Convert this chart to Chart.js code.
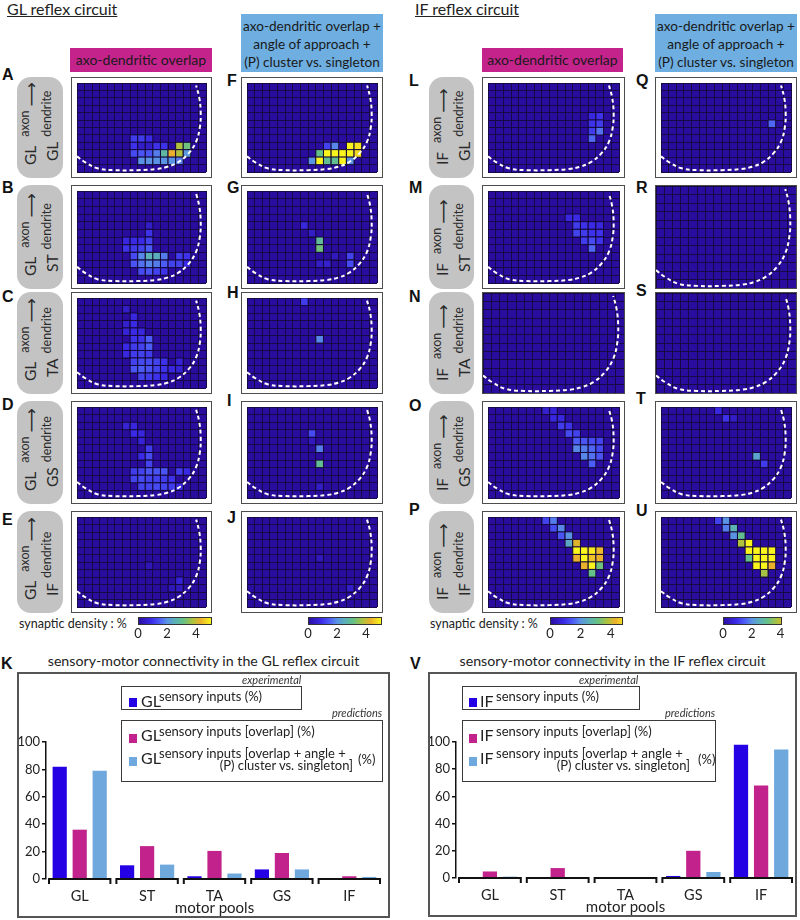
<!DOCTYPE html>
<html>
<head>
<meta charset="utf-8">
<script src="https://cdn.jsdelivr.net/npm/chart.js@4.4.1/dist/chart.umd.min.js"></script>
<style>
  body { margin: 0; background: #fff; }
  #page { position: relative; width: 800px; height: 920px; overflow: hidden; font-family: Lato, "Open Sans", sans-serif; color: #222; }
  .abs { position: absolute; white-space: nowrap; }
  .hdr { font-size: 16px; line-height: 16px; text-decoration: underline; }
  .mbox { background: #c3238b; font-size: 14px; line-height: 24px; text-align: center; color: #1a1a1a; }
  .bbox { background: #6eaee0; font-size: 13.6px; line-height: 18px; text-align: center; padding-top: 3px; box-sizing: border-box; color: #1a1a1a; }
  .letter { font: bold 16px "Liberation Sans", Arial, sans-serif; line-height: 16px; color: #111; }
  .glab { background: #c3c3c3; border-radius: 14px; }
  .rot { position: absolute; transform-origin: 0 0; transform: rotate(-90deg); }
  .rot .ln { position: absolute; white-space: nowrap; font-size: 15.5px; line-height: 15px; color: #2a2a2a; }
  .rot .sp { font-size: 12.5px; position: relative; top: -7px; }
  .rot .ar { font-family: "DejaVu Sans", sans-serif; font-size: 17px; position: relative; top: 1px; }
  .panel { border: 1px solid #4d4d4d; box-sizing: border-box; }
  .panel canvas { display: block; }
  .frame { border: 2px solid #555; box-sizing: border-box; }
  .lg { border: 1.5px solid #3a3a3a; box-sizing: border-box; }
  .sw { width: 8px; height: 9px; }
  .big { font-size: 16px; line-height: 16px; }
  .sup { font-size: 13px; line-height: 13px; }
  .it { font-size: 11px; line-height: 12px; font-style: italic; color: #333; }
  .small { font-size: 12.5px; line-height: 13px; }
  .title { font-size: 14.2px; line-height: 15px; text-align: center; }
</style>
</head>
<body>
<div id="page"></div>
<script>
// ---- bar chart data ----
const motorPools = ['GL', 'ST', 'TA', 'GS', 'IF'];
const glExperimental = [82, 10, 2, 7, 0.3];
const glOverlap = [36, 24, 20.5, 19, 2];
const glCombined = [79, 10.5, 4, 7, 1.5];
const ifExperimental = [0.5, 0, 0, 1.5, 98];
const ifOverlap = [4.8, 7.3, 0, 20, 68];
const ifCombined = [1, 0, 0, 4.4, 94.5];
const yTicks = [0, 20, 40, 60, 80, 100];
const colorbarTicks = [0, 2, 4];

// ---- heatmap data: [column, row, synaptic density %] (17 x 12 grid) ----
const gridCols = 17;
const gridRows = 12;
const cellsA = [[7,7,1.1],[8,7,1.1],[9,7,0.9],[7,8,1.0],[8,8,0.5],[9,8,0.5],[10,8,1.0],[11,8,1.0],[13,8,3.8],[14,8,3.2],
  [7,9,1.3],[8,9,1.4],[9,9,1.4],[10,9,1.8],[11,9,2.8],[12,9,4.3],[13,9,3.8],[14,9,2.1],
  [8,10,2.0],[9,10,2.0],[10,10,2.0],[11,10,2.0],[12,10,2.0],[13,10,1.8]];
const cellsB = [[9,4,0.5],[9,5,1.0],[6,6,0.8],[7,6,0.9],[8,6,0.9],[9,6,1.2],[6,7,1.0],[7,7,1.1],[8,7,1.2],[9,7,1.5],
  [7,8,1.3],[8,8,1.9],[9,8,2.6],[10,8,2.5],[11,8,1.8],[13,8,1.1],[14,8,1.0],
  [7,9,1.4],[8,9,1.7],[9,9,1.9],[10,9,1.8],[11,9,1.5],[12,9,1.2],[13,9,1.2],[14,9,0.9],
  [8,10,1.3],[9,10,1.4],[10,10,1.2],[11,10,1.0]];
const cellsC = [[6,1,0.5],[7,2,0.8],[6,3,0.6],[7,3,0.9],[6,4,0.7],[7,4,0.9],[8,4,0.8],[7,5,1.0],[8,5,1.0],[9,5,1.5],
  [6,6,0.9],[7,6,1.1],[8,6,1.2],[9,6,1.5],[6,7,0.8],[7,7,1.1],[8,7,1.2],[9,7,1.1],
  [7,8,1.2],[8,8,1.3],[9,8,1.3],[10,8,1.2],[11,8,1.0],[13,8,0.7],
  [7,9,1.4],[8,9,1.5],[9,9,1.4],[10,9,1.2],[11,9,1.0],[12,9,0.8],[13,9,0.7],
  [8,10,1.2],[9,10,1.1],[10,10,1.0],[11,10,0.8]];
const cellsD = [[6,2,0.7],[7,2,0.8],[7,3,0.9],[8,3,0.8],[8,4,0.7],[9,5,1.1],[8,6,0.9],[9,6,1.3],[9,7,1.2],
  [7,8,1.1],[8,8,1.2],[9,8,1.4],[10,8,1.4],[11,8,1.4],[13,8,1.1],[14,8,0.9],
  [7,9,1.2],[8,9,1.3],[9,9,1.2],[10,9,1.2],[11,9,1.1],[12,9,1.0],
  [8,10,1.2],[9,10,1.2],[10,10,1.3],[11,10,1.2],[12,10,1.1],[13,10,0.8]];
const cellsE = [[9,6,0.3],[13,8,0.7],[12,9,0.3],[13,9,0.4]];
const cellsF = [[10,8,1.2],[11,8,1.9],[13,8,5],[14,8,4.8],[9,9,3.1],[10,9,5],[11,9,5],[12,9,5],[13,9,5],[14,9,4.7],
  [8,10,2.0],[9,10,5],[10,10,3.0],[11,10,3.0],[12,10,5],[13,10,2.0]];
const cellsG = [[7,4,0.8],[8,5,0.5],[9,6,2.9],[9,7,3.2],[11,8,0.4],[13,8,1.2],[9,9,0.5],[10,9,0.6],[13,9,1.3]];
const cellsH = [[7,0,1.1],[9,5,1.9]];
const cellsI = [[8,3,1.3],[8,4,0.4],[9,5,1.8],[9,7,3.0],[9,10,0.5]];
const cellsJ = [[9,5,0.4],[13,9,0.5]];
const cellsL = [[13,4,0.8],[14,4,1.0],[13,5,1.0],[14,5,1.1],[13,6,1.1],[14,6,1.7],[13,7,1.6]];
const cellsM = [[10,3,0.8],[11,3,0.9],[11,4,1.1],[12,4,1.0],[13,4,0.9],[14,4,0.8],[11,5,1.2],[12,5,1.1],[13,5,1.0],[14,5,1.0],
  [12,6,1.1],[13,6,1.3],[14,6,1.0],[13,7,1.6]];
const cellsN = [];
const cellsO = [[7,0,0.6],[8,0,0.7],[8,1,0.8],[9,1,0.8],[9,2,1.1],[10,2,1.0],[10,3,1.3],[11,3,1.2],
  [11,4,1.5],[12,4,1.4],[13,4,1.3],[14,4,1.2],[11,5,1.9],[12,5,1.8],[13,5,1.6],[14,5,1.3],
  [12,6,1.9],[13,6,1.7],[14,6,1.4],[13,7,1.5]];
const cellsP = [[7,0,1.2],[8,0,1.8],[8,1,1.3],[9,1,1.9],[9,2,1.4],[10,2,2.0],[10,3,2.4],[11,3,4.2],
  [11,4,5],[12,4,5],[13,4,4.9],[14,4,4.4],[11,5,4.3],[12,5,5],[13,5,4.5],[14,5,4.3],
  [12,6,4.3],[13,6,5],[14,6,3.2],[13,7,3.1]];
const cellsQ = [[14,5,1.6]];
const cellsR = [];
const cellsS = [];
const cellsT = [[7,0,0.8],[8,1,1.0],[9,1,0.5],[12,6,2.3],[13,7,1.1]];
const cellsU = [[7,0,1.2],[8,0,2.0],[8,1,1.8],[9,1,2.6],[9,2,2.0],[10,2,3.0],[10,3,3.8],[11,3,5],
  [11,4,5],[12,4,5],[13,4,5],[14,4,5],[11,5,3.1],[12,5,5],[13,5,5],[14,5,5],
  [12,6,5],[13,6,5],[14,6,4.3],[13,7,3.7]];

// dashed outline of the grey matter, in grid units
const outlineX = [0, 1.1, 2.7, 5, 8, 10.5, 11.9, 13.3, 14.7, 15.7, 16.2, 16.3, 16.1, 15.7];
const outlineY = [9.9, 10.7, 11.5, 11.75, 11.75, 11.6, 11.3, 10.7, 9.5, 7.9, 5.9, 3.9, 1.9, 0.35];

const panelLetters = [['A','B','C','D','E'], ['F','G','H','I','J'], ['L','M','N','O','P'], ['Q','R','S','T','U']];
const panelCells = [[cellsA, cellsB, cellsC, cellsD, cellsE], [cellsF, cellsG, cellsH, cellsI, cellsJ],
  [cellsL, cellsM, cellsN, cellsO, cellsP], [cellsQ, cellsR, cellsS, cellsT, cellsU]];
const axonPools = ['GL', 'IF'];
const dendritePools = ['GL', 'ST', 'TA', 'GS', 'IF'];

// colour map for synaptic density
const densityStops = [[0,'#2a0c9e'],[0.9,'#3a2ae6'],[1.5,'#4c5cf6'],[2.0,'#5a92e4'],[2.6,'#5cb2b4'],
  [3.1,'#64c088'],[3.8,'#b0c23c'],[4.3,'#eab02c'],[5,'#f8f41c']];

const BLUE = '#2400e4', MAGENTA = '#c1228b', LIGHTBLUE = '#6fa8dc';

function hex(c) { return [1, 3, 5].map(i => parseInt(c.substr(i, 2), 16)); }
function densityColor(v) {
  if (v <= densityStops[0][0]) return densityStops[0][1];
  for (let i = 1; i < densityStops.length; i++) {
    const [v1, c1] = densityStops[i];
    if (v <= v1) {
      const [v0, c0] = densityStops[i - 1];
      const t = (v - v0) / (v1 - v0), a = hex(c0), b = hex(c1);
      return 'rgb(' + a.map((x, k) => Math.round(x + (b[k] - x) * t)).join(',') + ')';
    }
  }
  return densityStops[densityStops.length - 1][1];
}

const page = document.getElementById('page');
function el(cls, x, y, w, h, html) {
  const d = document.createElement('div');
  d.className = 'abs ' + cls;
  d.style.left = x + 'px';
  d.style.top = y + 'px';
  if (w != null) d.style.width = w + 'px';
  if (h != null) d.style.height = h + 'px';
  if (html != null) d.innerHTML = html;
  page.appendChild(d);
  return d;
}
function addCanvas(x, y, w, h, parent) {
  const c = document.createElement('canvas');
  c.width = w; c.height = h;
  if (parent) { parent.appendChild(c); }
  else { c.style.position = 'absolute'; c.style.left = x + 'px'; c.style.top = y + 'px'; page.appendChild(c); }
  return c;
}

// ---- headers ----
el('hdr', 7, 1, null, null, 'GL reflex circuit');
el('hdr', 415, 1, null, null, 'IF reflex circuit');
el('mbox', 70, 48, 142, 24, 'axo-dendritic overlap');
el('mbox', 482, 48, 141, 24, 'axo-dendritic overlap');
el('bbox', 241, 14, 142, 58, 'axo-dendritic overlap +<br>angle of approach +<br>(P) cluster vs. singleton');
el('bbox', 655, 14, 142, 58, 'axo-dendritic overlap +<br>angle of approach +<br>(P) cluster vs. singleton');

// ---- heatmap panels ----
const colLeft = [71, 241, 482, 655];
const colWidth = [141, 142, 143, 142];
const rowTop = [77, 185, 292, 401, 511];
const rowHeight = [101, 104, 102, 103, 102];
const letterX = [2, 227, 409, 636];
const letterY = [[67, 180, 289, 397, 512], [73, 180, 285, 393, 510], [73, 180, 289, 398, 502], [73, 180, 283, 391, 503]];

const heatBackground = {
  id: 'heatBackground',
  beforeDraw(chart) {
    const { ctx, chartArea: a } = chart;
    ctx.save();
    ctx.fillStyle = densityColor(0);
    ctx.fillRect(a.left, a.top, a.width, a.height);
    ctx.restore();
  }
};

function heatmap(canvas, cells) {
  return new Chart(canvas, {
    type: 'scatter',
    data: {
      datasets: [
        {
          data: outlineX.map((x, i) => ({ x: x, y: outlineY[i] })),
          showLine: true, borderColor: '#ffffff', borderWidth: 2, borderDash: [4, 3],
          pointRadius: 0, tension: 0.4, order: 0
        },
        {
          data: cells.map(c => ({ x: c[0] + 0.5, y: c[1] + 0.5, v: c[2] })),
          pointStyle: 'rect',
          backgroundColor: ctx => densityColor(ctx.raw ? ctx.raw.v : 0),
          borderColor: '#140838', borderWidth: 1,
          pointRadius: ctx => ctx.chart.chartArea ? ctx.chart.chartArea.width / gridCols / Math.SQRT2 : 4,
          order: 1
        }
      ]
    },
    options: {
      responsive: false, animation: false, events: [],
      layout: { padding: 0 },
      plugins: { legend: { display: false }, tooltip: { enabled: false } },
      scales: {
        x: { type: 'linear', min: 0, max: gridCols, ticks: { display: false, stepSize: 1 },
             grid: { color: '#160a44', drawTicks: false }, border: { display: false },
             afterFit: s => { s.height = 0; } },
        y: { type: 'linear', min: 0, max: gridRows, reverse: true, ticks: { display: false, stepSize: 1 },
             grid: { color: '#160a44', drawTicks: false }, border: { display: false },
             afterFit: s => { s.width = 0; } }
      }
    },
    plugins: [heatBackground]
  });
}

for (let c = 0; c < 4; c++) {
  for (let r = 0; r < 5; r++) {
    const p = el('panel', colLeft[c], rowTop[r], colWidth[c], rowHeight[r]);
    const cv = addCanvas(0, 0, colWidth[c] - 2, rowHeight[r] - 2, p);
    heatmap(cv, panelCells[c][r]);
    el('letter', letterX[c], letterY[c][r], null, null, panelLetters[c][r]);
  }
}

// ---- grey row labels (rotated) ----
const labelLeft = [17, 429];
const labelWidth = [46, 45];
for (let s = 0; s < 2; s++) {
  for (let r = 0; r < 5; r++) {
    const h = rowHeight[r];
    el('glab', labelLeft[s], rowTop[r], labelWidth[s], h);
    const rot = el('rot', labelLeft[s], rowTop[r] + h, h, labelWidth[s]);
    rot.innerHTML =
      '<div class="ln" style="left:13px;top:6px">' + axonPools[s] + '<span class="sp" style="margin-left:9px">axon</span> <span class="ar">&#10230;</span></div>' +
      '<div class="ln" style="left:17px;top:28px">' + dendritePools[r] + '<span class="sp" style="margin-left:5px">dendrite</span></div>';
  }
}

// ---- colour bars ----
const gradientBar = {
  id: 'gradientBar',
  beforeDraw(chart) {
    const { ctx, chartArea: a, scales: { x } } = chart;
    const g = ctx.createLinearGradient(a.left, 0, a.right, 0);
    densityStops.forEach(([v, col]) => {
      const t = (x.getPixelForValue(v) - a.left) / a.width;
      if (t >= 0 && t <= 1) g.addColorStop(t, col);
    });
    g.addColorStop(1, densityColor(x.max));
    ctx.save();
    ctx.fillStyle = g;
    ctx.fillRect(a.left, a.top, a.width, a.height);
    ctx.strokeStyle = '#333';
    ctx.lineWidth = 1;
    ctx.strokeRect(a.left + 0.5, a.top + 0.5, a.width - 1, a.height - 1);
    ctx.restore();
  }
};
function colorbar(canvas, maxVal) {
  return new Chart(canvas, {
    type: 'scatter',
    data: { datasets: [] },
    options: {
      responsive: false, animation: false, events: [],
      layout: { padding: { left: 5, right: 5, top: 1, bottom: 0 } },
      plugins: { legend: { display: false }, tooltip: { enabled: false } },
      scales: {
        x: { type: 'linear', min: 0, max: maxVal,
             afterBuildTicks: s => { s.ticks = colorbarTicks.map(v => ({ value: v })); },
             grid: { display: false, drawTicks: false }, border: { display: false },
             ticks: { color: '#222', font: { family: 'Lato', size: 13 }, padding: 1 },
             afterFit: s => { s.height = 16; } },
        y: { display: false }
      }
    },
    plugins: [gradientBar]
  });
}
const barLeft = [138, 308, 550, 723];
const barWidth = [74, 74, 73, 59];
const barMax = [5.1, 5.1, 4.8, 4.1];
for (let i = 0; i < 4; i++) {
  colorbar(addCanvas(barLeft[i] - 5, 616, barWidth[i] + 10, 25), barMax[i]);
}
el('small', 19, 617, null, null, 'synaptic density : %');
el('small', 430, 617, null, null, 'synaptic density : %');

// ---- bar charts ----
const segmentedAxis = {
  id: 'segmentedAxis',
  afterDraw(chart) {
    const x = chart.scales.x, y0 = chart.scales.y.getPixelForValue(0), ctx = chart.ctx;
    const w = x.width / motorPools.length;
    ctx.save();
    ctx.strokeStyle = '#111';
    ctx.lineWidth = 2;
    motorPools.forEach((p, i) => {
      const c = x.getPixelForValue(i);
      const a = c - w / 2 + 3, b = c + w / 2 - 3;
      ctx.beginPath();
      ctx.moveTo(a, y0 + 5); ctx.lineTo(a, y0); ctx.lineTo(b, y0); ctx.lineTo(b, y0 + 5);
      ctx.stroke();
    });
    ctx.restore();
  }
};
function barChart(canvas, series, yWidth, padRight) {
  return new Chart(canvas, {
    type: 'bar',
    data: {
      labels: motorPools,
      datasets: [
        { label: 'experimental', data: series[0], backgroundColor: BLUE },
        { label: 'overlap', data: series[1], backgroundColor: MAGENTA },
        { label: 'overlap + angle + cluster', data: series[2], backgroundColor: LIGHTBLUE }
      ]
    },
    options: {
      responsive: false, animation: false, events: [],
      layout: { padding: { top: 68, right: padRight, left: 0, bottom: 0 } },
      datasets: { bar: { categoryPercentage: 0.89, barPercentage: 0.71 } },
      plugins: { legend: { display: false }, tooltip: { enabled: false } },
      scales: {
        x: {
          grid: { display: true, drawOnChartArea: false, drawTicks: true, tickLength: 4, color: 'rgba(0,0,0,0)' },
          border: { display: false },
          ticks: { color: '#222', font: { family: 'Lato', size: 14.5 }, padding: 5 },
          title: { display: true, text: 'motor pools', color: '#222', font: { family: 'Lato', size: 15, lineHeight: 1 }, padding: 0 },
          afterFit: s => { s.height = 37; }
        },
        y: {
          min: 0, max: 100,
          afterBuildTicks: s => { s.ticks = yTicks.map(v => ({ value: v })); },
          grid: { drawOnChartArea: false, tickLength: 4, color: '#111', lineWidth: 1.5 },
          border: { color: '#111', width: 1.5 },
          ticks: { color: '#222', font: { family: 'Lato', size: 13 }, padding: 2 },
          afterFit: s => { s.width = yWidth; }
        }
      }
    },
    plugins: [segmentedAxis]
  });
}

el('title', 17, 653, 373, null, 'sensory-motor connectivity in the GL reflex circuit');
el('title', 428, 653, 369, null, 'sensory-motor connectivity in the IF reflex circuit');
el('letter', 1, 656, null, null, 'K');
el('letter', 410, 656, null, null, 'V');
el('frame', 17, 672, 373, 246);
el('frame', 428, 672, 369, 245);
barChart(addCanvas(19, 674, 369, 242), [glExperimental, glOverlap, glCombined], 27, 5);
barChart(addCanvas(430, 674, 366, 241), [ifExperimental, ifOverlap, ifCombined], 26, 1);

// ---- legends ----
function legend(cfg) {
  const L = cfg.left;
  el('it', cfg.expX, 674, null, null, 'experimental');
  el('lg', L, 686, cfg.w1, 24);
  el('it', cfg.predX, 707, null, null, 'predictions');
  el('lg', L, 720, cfg.w2, 62);
  const rows = [[BLUE, 698, 692.5, 690.2], [MAGENTA, 734, 726.8, 725.2], [LIGHTBLUE, 757, 750, 746.8]];
  const texts = ['sensory inputs (%)', 'sensory inputs [overlap] (%)', 'sensory inputs [overlap + angle +'];
  rows.forEach((r, i) => {
    el('sw', L + cfg.swX, r[1], null, null, '').style.background = r[0];
    el('big', L + cfg.nameX, r[2], null, null, cfg.name);
    el('sup', L + cfg.supX, r[3], null, null, texts[i]);
  });
  const l2 = el('sup', L + cfg.line2Right - 220, 758.5, 220, null, '(P) cluster vs. singleton]');
  l2.style.textAlign = 'right';
  el('sup', L + cfg.pctX, 752.5, null, null, '(%)');
}
legend({ left: 121, w1: 181, w2: 262, expX: 242, predX: 332, swX: 8, nameX: 20, supX: 38, line2Right: 232, pctX: 237, name: 'GL' });
legend({ left: 462, w1: 178, w2: 254, expX: 579, predX: 665, swX: 6.5, nameX: 18, supX: 34, line2Right: 228, pctX: 236, name: 'IF' });
</script>
</body>
</html>
